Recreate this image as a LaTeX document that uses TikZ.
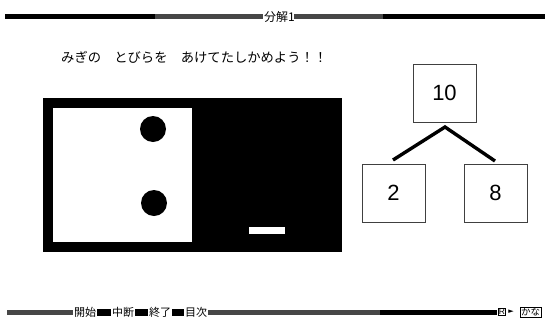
\documentclass[tikz,border=0pt]{standalone}
\usepackage{fontspec}
\setmainfont{Liberation Sans}
\newfontfamily\jp{Noto Sans CJK JP}
\newfontfamily\sym{DejaVu Sans}
\begin{document}
\begin{tikzpicture}[x=1pt,y=-1pt,
  numbox/.style={draw=black!75,line width=0.8pt,minimum width=63pt,minimum height=58pt,inner sep=0pt,font=\fontsize{22}{22}\selectfont},
  branch/.style={line width=3.4pt},
  barlbl/.style={font=\jp\fontsize{11}{11}\selectfont,inner sep=0pt,fill=white},
  bar/.style={fill=black},
  dith/.style={fill=black!72}]
\useasboundingbox[fill=white] (0,0) rectangle (547,325);

% ---- top title bar ----
\fill[bar] (5,14) rectangle (155,19);
\fill[dith] (155,14) rectangle (263,19);
\node[barlbl,font=\jp\fontsize{12}{12}\selectfont,anchor=west] (title) at (264,16.5) {分解1};
\fill[dith] (294,14) rectangle (383,19);
\fill[bar] (383,14) rectangle (545,19);

% ---- instruction ----
\node[font=\jp\fontsize{13.3}{13.3}\selectfont,anchor=west,inner sep=0pt] (instr) at (61,57) {みぎの　とびらを　あけてたしかめよう！！};

% ---- door panel ----
\fill[black] (43,98) rectangle (342,252);
\fill[white] (53,108) rectangle (192,242);
\fill[black] (153,129) circle (13);
\fill[black] (154,203) circle (13);
\fill[white] (249,227) rectangle (285,234);

% ---- number tree ----
\node[numbox] (n10) at (444.5,93) {10};
\node[numbox] (n2) at (393.5,193) {2};
\node[numbox] (n8) at (495.5,193) {8};
\coordinate (apex) at (445,127);
\coordinate (lend) at (393,160);
\coordinate (rend) at (495,161);
\draw[branch] (lend) -- (apex) -- (rend);

% ---- bottom menu bar ----
\fill[dith] (7,309.5) rectangle (73,314.5);
\node[barlbl,anchor=west] (kaishi) at (74,312) {開始};
\fill[bar] (97,308.5) rectangle (111,315.5);
\node[barlbl,anchor=west] (chudan) at (112,312) {中断};
\fill[bar] (135,308.5) rectangle (148,315.5);
\node[barlbl,anchor=west] (shuryo) at (149,312) {終了};
\fill[bar] (172,308.5) rectangle (184,315.5);
\node[barlbl,anchor=west] (mokuji) at (185,312) {目次};
\fill[dith] (208,309.5) rectangle (380,314.5);
\fill[bar] (380,309.5) rectangle (497,314.5);
\node[draw,line width=0.7pt,inner sep=0.6pt,font=\fontsize{8.5}{8.5}\selectfont] (rbox) at (502,312) {R};
\node[inner sep=0pt,font=\sym\fontsize{7}{7}\selectfont] (arrow) at (511,312) {►};
\node[draw,line width=0.7pt,inner sep=0.8pt,anchor=west,font=\jp\fontsize{9.5}{9.5}\selectfont] (kana) at (520,312) {かな};
\end{tikzpicture}
\end{document}
